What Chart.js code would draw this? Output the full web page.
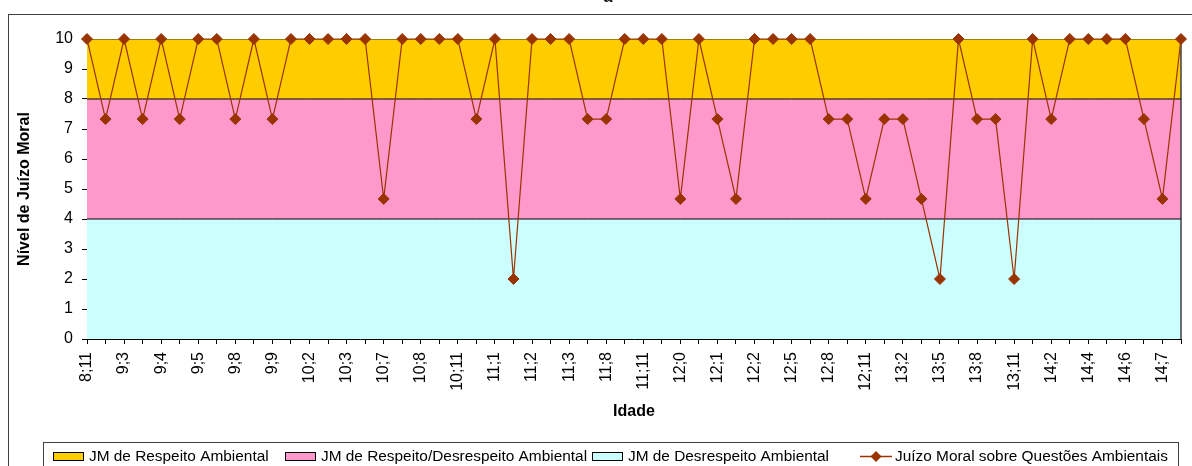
<!DOCTYPE html>
<html>
<head>
<meta charset="utf-8">
<title>Juízo Moral sobre Questões Ambientais</title>
<script src="https://cdn.jsdelivr.net/npm/chart.js@4.4.1/dist/chart.umd.min.js"></script>
<style>
  html, body { margin: 0; padding: 0; background: #fff; }
</style>
</head>
<body>
<canvas id="moral-chart" width="1192" height="466"></canvas>
<script>
// ages (anos;meses), only every other one is labelled on the axis
const gAgeLabels = [
  '8;11', '', '9;3', '', '9;4', '', '9;5', '', '9;8', '', '9;9', '',
  '10;2', '', '10;3', '', '10;7', '', '10;8', '', '10;11', '', '11;1', '',
  '11;2', '', '11;3', '', '11;8', '', '11;11', '', '12;0', '', '12;1', '',
  '12;2', '', '12;5', '', '12;8', '', '12;11', '', '13;2', '', '13;5', '',
  '13;8', '', '13;11', '', '14;2', '', '14;4', '', '14;6', '', '14;7', ''
];

const gMoralValues = [
  10, 7.33, 10, 7.33, 10, 7.33, 10, 10, 7.33, 10, 7.33, 10,
  10, 10, 10, 10, 4.67, 10, 10, 10, 10, 7.33, 10, 2,
  10, 10, 10, 7.33, 7.33, 10, 10, 10, 4.67, 10, 7.33, 4.67,
  10, 10, 10, 10, 7.33, 7.33, 4.67, 7.33, 7.33, 4.67, 2, 10,
  7.33, 7.33, 2, 10, 7.33, 10, 10, 10, 10, 7.33, 4.67, 10
];

const gSeriesName = 'Juízo Moral sobre Questões Ambientais';
const gBandNames = ['JM de Respeito Ambiental', 'JM de Respeito/Desrespeito Ambiental', 'JM de Desrespeito Ambiental'];
const gBandTops = [10, 8, 4];
const gBandColors = ['#FFCC00', '#FF99CC', '#CCFFFF'];

const G_FONT = "'Liberation Sans', Arial, sans-serif";
const G_LINE_COLOR = '#993300';

Chart.defaults.font.family = G_FONT;
Chart.defaults.color = '#000';

// build datasets: the line first (drawn on top), then the bands
function buildDatasets() {
  let vDatasets = [{
    label: gSeriesName,
    data: gMoralValues,
    borderColor: G_LINE_COLOR,
    backgroundColor: G_LINE_COLOR,
    borderWidth: 1.2,
    pointStyle: 'rectRot',
    pointRadius: 5.5,
    pointBorderWidth: 1,
    pointBackgroundColor: G_LINE_COLOR,
    pointBorderColor: G_LINE_COLOR,
    fill: false,
    tension: 0,
    clip: false,
  }];
  gBandTops.forEach((top, i) => {
    vDatasets.push({
      label: gBandNames[i],
      data: gAgeLabels.map(() => top),
      borderColor: i === 0 ? '#333' : '#000',
      borderWidth: 1,
      backgroundColor: gBandColors[i],
      pointRadius: 0,
      fill: i === gBandTops.length - 1 ? 'origin' : '+1',
    });
  });
  return vDatasets;
}

// frame, title and legend drawn around the chart
const gDecorPlugin = {
  id: 'decor',
  beforeDraw(chart) {
    const ctx = chart.ctx;
    ctx.save();
    ctx.strokeStyle = '#404040';
    ctx.lineWidth = 1;
    ctx.strokeRect(8.5, 14.5, 1300, 600);
    ctx.restore();
  },
  beforeDatasetsDraw(chart) {
    const ctx = chart.ctx;
    const a = chart.chartArea;
    ctx.save();
    ctx.strokeStyle = '#404040';
    ctx.lineWidth = 1.5;
    ctx.beginPath();
    ctx.moveTo(a.right, a.top);
    ctx.lineTo(a.right, a.bottom);
    ctx.stroke();
    ctx.restore();
  },
  afterDraw(chart) {
    const ctx = chart.ctx;
    ctx.save();
    // title, cut by the top of the picture
    ctx.fillStyle = '#000';
    ctx.font = 'bold 16px ' + G_FONT;
    ctx.textAlign = 'center';
    ctx.textBaseline = 'alphabetic';
    ctx.fillText('a', 608, 2);

    // legend box
    ctx.strokeStyle = '#404040';
    ctx.lineWidth = 1;
    ctx.strokeRect(43.5, 442.5, 1135, 60);

    const vY = 456.5;
    const vTextX = [89, 321, 628, 895];
    ctx.font = '15.4px ' + G_FONT;
    ctx.textAlign = 'left';
    ctx.textBaseline = 'middle';
    gBandNames.forEach((name, i) => {
      ctx.fillStyle = gBandColors[i];
      ctx.fillRect(vTextX[i] - 36, vY - 4.5, 31, 9);
      ctx.strokeStyle = '#000';
      ctx.strokeRect(vTextX[i] - 35.5, vY - 4, 30, 8);
      ctx.fillStyle = '#000';
      ctx.fillText(name, vTextX[i], vY);
    });
    // line item
    const vLx = vTextX[3];
    ctx.strokeStyle = G_LINE_COLOR;
    ctx.lineWidth = 1.5;
    ctx.beginPath();
    ctx.moveTo(vLx - 35, vY);
    ctx.lineTo(vLx - 3, vY);
    ctx.stroke();
    ctx.fillStyle = G_LINE_COLOR;
    ctx.beginPath();
    const vCx = vLx - 19;
    ctx.moveTo(vCx, vY - 5.5);
    ctx.lineTo(vCx + 5.5, vY);
    ctx.lineTo(vCx, vY + 5.5);
    ctx.lineTo(vCx - 5.5, vY);
    ctx.closePath();
    ctx.fill();
    ctx.fillStyle = '#000';
    ctx.fillText(gSeriesName, vLx, vY);
    ctx.restore();
  },
};

// render chart
function renderChart() {
  const vCtx = document.getElementById('moral-chart').getContext('2d');
  new Chart(vCtx, {
    type: 'line',
    data: {
      labels: gAgeLabels,
      datasets: buildDatasets(),
    },
    options: {
      responsive: false,
      animation: false,
      devicePixelRatio: 1,
      layout: { padding: { left: 8, top: 39, right: 11, bottom: 0 } },
      plugins: {
        legend: { display: false },
        tooltip: { enabled: false },
        filler: { drawTime: 'beforeDatasetsDraw' },
      },
      scales: {
        x: {
          type: 'category',
          offset: false,
          grid: { display: true, drawOnChartArea: false, drawTicks: true, tickLength: 5, color: '#000' },
          border: { display: true, color: '#000', width: 1 },
          ticks: {
            autoSkip: false,
            maxRotation: 90,
            minRotation: 90,
            padding: 8,
            color: '#000',
            font: { size: 16 },
          },
          title: {
            display: true,
            text: 'Idade',
            color: '#000',
            font: { size: 16, weight: 'bold' },
            padding: { top: 0, bottom: 45 },
          },
          afterFit: (scale) => {
            scale.height = 127;
            scale.paddingLeft = 0;
            scale.paddingRight = 0;
          },
        },
        y: {
          min: 0,
          max: 10,
          grid: { display: true, drawOnChartArea: false, drawTicks: true, tickLength: 5, color: '#000' },
          border: { display: true, color: '#000', width: 1 },
          ticks: { stepSize: 1, padding: 9, color: '#000', font: { size: 16 } },
          title: {
            display: true,
            text: 'Nível de Juízo Moral',
            color: '#000',
            font: { size: 16, weight: 'bold' },
            padding: { top: 7, bottom: 0 },
          },
          afterFit: (scale) => { scale.width = 79; },
        },
      },
    },
    plugins: [gDecorPlugin],
  });
}

renderChart();
</script>
</body>
</html>
